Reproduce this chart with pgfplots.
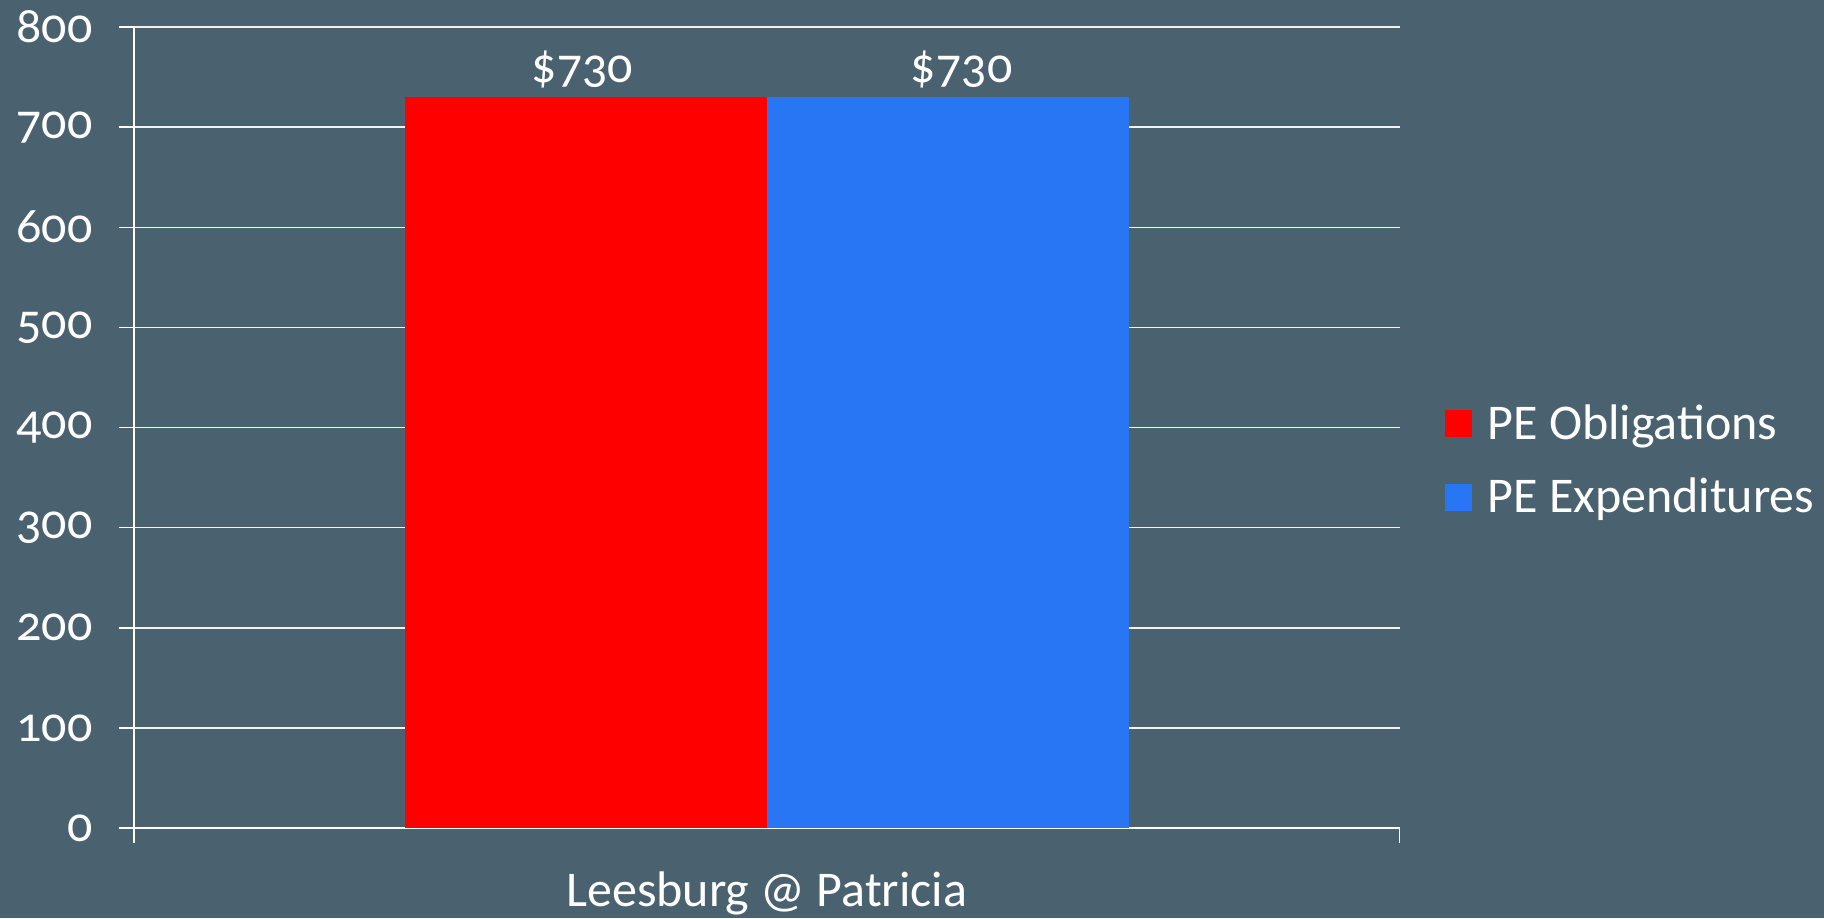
\documentclass[border=0pt]{standalone}
\usepackage{pgfplots}
\pgfplotsset{compat=1.18}
\usepackage{fontspec}
\setmainfont{Carlito}[Numbers=OldStyle]
\definecolor{bg}{HTML}{4A626F}
\definecolor{barred}{HTML}{FF0000}
\definecolor{barblue}{HTML}{2876F4}
\newcommand{\cf}{\fontsize{20}{22}\selectfont}
\pgfplotsset{sqlegend/.style={legend image code/.code={\fill[##1] (0pt,-5.4pt) rectangle (10.8pt,5.4pt);}}}
\begin{document}
\begin{tikzpicture}
\fill[bg] (0,0) rectangle (729.6pt,367.2pt);
\begin{axis}[
  at={(53.6pt,36pt)}, anchor=south west,
  scale only axis, width=506.2pt, height=320.4pt,
  xmin=-0.5, xmax=0.5, ymin=0, ymax=800,
  ybar=0pt, bar width=144.7pt,
  /pgf/number format/assume math mode=true,
  ytick={0,100,...,800},
  xtick={-0.5,0.5}, xticklabels={},
  axis x line=bottom, axis y line=left,
  axis line style={white,-,line width=0.6pt},
  tick align=outside, major tick length=6pt,
  tick style={white,line width=0.6pt},
  ymajorgrids, grid style={white!90!gray,line width=0.6pt},
  yticklabel style={font=\cf, text=white, xshift=-7pt},
  xlabel={Leesburg @ Patricia},
  xlabel style={font=\cf, text=white, yshift=-1pt},
  nodes near coords={\$\pgfmathprintnumber{\pgfplotspointmeta}},
  nodes near coords style={font=\cf, text=white},
  legend style={at={(1.03,0.4588)}, anchor=west, draw=none, fill=none,
    text=white, font=\cf, row sep=10pt, column sep=4pt},
  legend cell align=left,
]
\addplot[fill=barred, draw=none, sqlegend, nodes near coords style={xshift=-1.4pt}] coordinates {(0,730)};
\addplot[fill=barblue, draw=none, sqlegend, nodes near coords style={xshift=5.6pt}] coordinates {(0,730)};
\legend{PE Obligations, PE Expenditures}
\end{axis}
\pgfresetboundingbox
\path[use as bounding box] (0,0) rectangle (729.6pt,367.2pt);
\end{tikzpicture}
\end{document}
